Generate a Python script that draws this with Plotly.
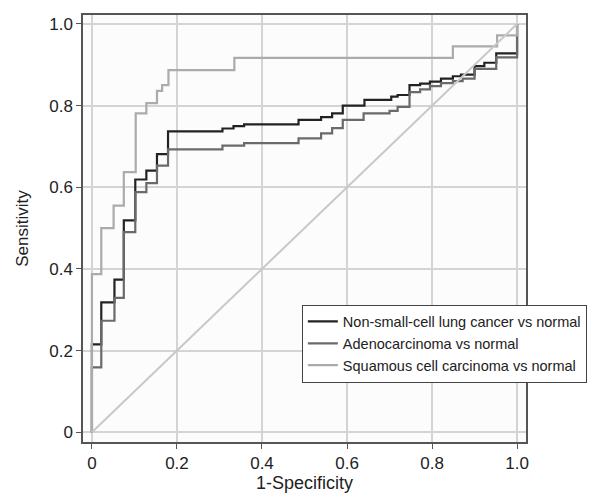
import plotly.graph_objects as go

# ROC step curves (1-Specificity, Sensitivity)
nsclc_x = [0, 0, 0.022, 0.053, 0.075, 0.102, 0.128, 0.153, 0.179, 0.307, 0.333, 0.358, 0.486,
           0.539, 0.565, 0.59, 0.641, 0.704, 0.719, 0.747, 0.772, 0.795, 0.821, 0.849, 0.868,
           0.9, 0.923, 0.951, 1.0, 1.0]
nsclc_y = [0, 0.215, 0.318, 0.374, 0.519, 0.619, 0.641, 0.681, 0.737, 0.744, 0.75, 0.754, 0.765,
           0.772, 0.781, 0.80, 0.814, 0.822, 0.826, 0.85, 0.854, 0.859, 0.866, 0.872, 0.876,
           0.897, 0.905, 0.928, 0.928, 1.0]

adeno_x = [0, 0, 0.022, 0.053, 0.075, 0.102, 0.128, 0.153, 0.179, 0.307, 0.358, 0.486, 0.539,
           0.565, 0.59, 0.639, 0.70, 0.719, 0.747, 0.772, 0.795, 0.821, 0.849, 0.872, 0.9,
           0.951, 1.0, 1.0]
adeno_y = [0, 0.159, 0.273, 0.329, 0.49, 0.588, 0.61, 0.653, 0.693, 0.702, 0.708, 0.72, 0.732,
           0.745, 0.765, 0.781, 0.787, 0.797, 0.833, 0.84, 0.848, 0.855, 0.86, 0.866, 0.89,
           0.918, 0.918, 1.0]

squam_x = [0, 0, 0.022, 0.051, 0.075, 0.103, 0.128, 0.153, 0.165, 0.18, 0.18, 0.335, 0.849,
           0.953, 1.0]
squam_y = [0, 0.387, 0.50, 0.555, 0.637, 0.781, 0.806, 0.836, 0.85, 0.862, 0.887, 0.917, 0.945,
           0.972, 1.0]

ref_x = [0, 1]
ref_y = [0, 1]

names = ["Non-small-cell lung cancer vs normal", "Adenocarcinoma vs normal",
         "Squamous cell carcinoma vs normal"]
tick_vals = [0, 0.2, 0.4, 0.6, 0.8, 1.0]
tick_text = ["0", "0.2", "0.4", "0.6", "0.8", "1.0"]

fig = go.Figure()
fig.add_trace(go.Scatter(x=nsclc_x, y=nsclc_y, mode="lines", line_shape="hv",
                         line=dict(color="#222222", width=2.2), name=names[0]))
fig.add_trace(go.Scatter(x=adeno_x, y=adeno_y, mode="lines", line_shape="hv",
                         line=dict(color="#6a6a6a", width=2.2), name=names[1]))
fig.add_trace(go.Scatter(x=squam_x, y=squam_y, mode="lines", line_shape="hv",
                         line=dict(color="#ababab", width=2.2), name=names[2]))
fig.add_trace(go.Scatter(x=ref_x, y=ref_y, mode="lines", showlegend=False,
                         line=dict(color="#c8c8c8", width=2)))

axis_common = dict(
    tickvals=tick_vals, ticktext=tick_text, showgrid=True, gridcolor="#d4d4d4", gridwidth=1.5,
    zeroline=False, showline=True, mirror=True, linecolor="#555555", linewidth=1.5,
    ticks="outside", ticklen=5, tickcolor="#555555",
    tickfont=dict(size=17, color="#222222", family="Liberation Sans, Arial, sans-serif"),
)
fig.update_xaxes(range=[-0.021, 1.021], title=dict(text="1-Specificity", standoff=4,
                 font=dict(size=18, color="#222222")), **axis_common)
fig.update_yaxes(range=[-0.024, 1.022], title=dict(text="Sensitivity", standoff=16,
                 font=dict(size=17, color="#222222")), **axis_common)

fig.update_layout(
    width=595, height=496,
    margin=dict(l=75, r=77, t=5, b=62),
    paper_bgcolor="white", plot_bgcolor="#fcfcfc",
    font=dict(family="Liberation Sans, Arial, sans-serif", color="#222222"),
    legend=dict(x=0.494, y=0.322, xanchor="left", yanchor="top",
                bgcolor="white", bordercolor="#444444", borderwidth=1,
                font=dict(size=14.5, color="#222222"), tracegroupgap=0,
                itemwidth=30),
)

fig.write_html("out.html")
